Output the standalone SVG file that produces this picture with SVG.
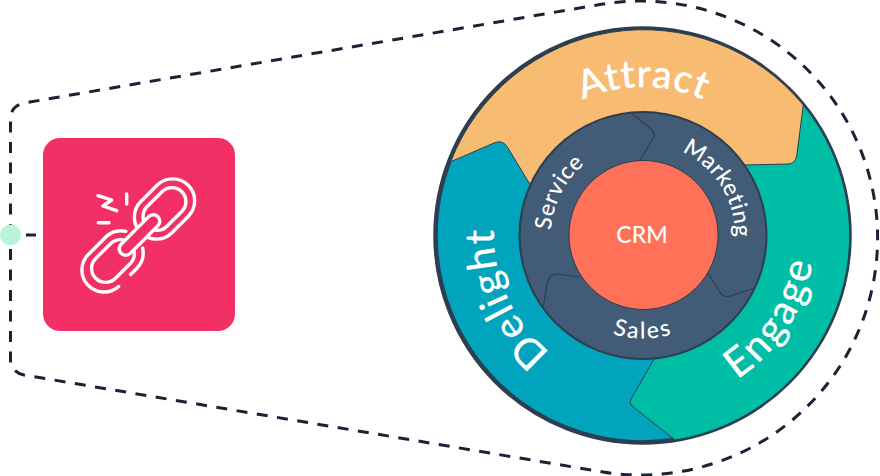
<svg xmlns="http://www.w3.org/2000/svg" width="880" height="476" viewBox="0 0 880 476">
<style>
.dash{fill:none;stroke:#1a2238;stroke-width:3}
.ic{fill:none;stroke:#fff;stroke-width:3.4;stroke-linecap:round;stroke-linejoin:round}
.seg{stroke:#2d3e50;stroke-width:1}
.big{font-family:Lato,"Liberation Sans",sans-serif;font-size:41px;font-weight:500;fill:#fff;text-anchor:middle;letter-spacing:1.500px}
.small{font-family:Lato,"Liberation Sans",sans-serif;font-size:23px;font-weight:500;fill:#fff;text-anchor:middle;letter-spacing:.4px}
</style>
<defs>
<path id="pAttract" d="M497.2 209.8A148 148 0 0 1 788.8 209.8"/>
<path id="pDelight" d="M650.8 384.3A149 149 0 0 1 541.4 126.6"/>
<path id="pEngage" d="M601.4 402.4A172 172 0 0 0 782.1 134.4"/>
<path id="pService" d="M565.8 285.6A92 92 0 0 1 638.2 143.6"/>
<path id="pMarketing" d="M608.5 150.2A92 92 0 0 1 704.6 303.9"/>
<path id="pSales" d="M553.8 287A103 103 0 0 0 732.2 287"/>
</defs>
<g id="connectors">
<path class="dash" stroke-dasharray="11 9.500" d="M10.5 235V119Q10.5 106 24 103L603 4A237 237 0 1 1 603 472L24 375Q10.5 372 10.5 359V235"/>
<path class="dash" d="M26 235H36"/>
</g>
<g id="dot"><circle cx="10.5" cy="235" r="10.5" fill="#b9f3dc"/></g>
<g id="broken-link">
<rect x="43" y="138" width="192" height="193" rx="17" fill="#f33066"/>
<g transform="translate(164.5 209) rotate(-45)"><rect class="ic" x="-33.5" y="-22" width="67" height="44" rx="22"/><rect class="ic" x="-24.5" y="-14" width="49" height="28" rx="14"/></g>
<g transform="translate(113 261) rotate(-45)"><path class="ic" d="M-14 22A22 22 0 0 1 -11.500-22H11.500A22 22 0 0 1 30-11.900M30 11.900A22 22 0 0 1 11.500 22H3"/><rect class="ic" x="-24.500" y="-14" width="49" height="28" rx="14"/></g>
<rect class="ic" x="-26" y="-6.500" width="52" height="13" rx="6.500" transform="translate(139.500 235) rotate(-45)" style="fill:#f33066"/>
<path class="ic" d="M98 195.700L111.700 200L103 206L116.700 210.700M126.700 194V204M98.300 222.700H109"/>
</g>
<g id="delight">
<circle cx="642.500" cy="235.500" r="207" fill="#00a4bd" stroke="#2d3e50" stroke-width="4.500"/>
<text class="big"><textPath href="#pDelight" startOffset="49%">Delight</textPath></text>
</g>
<g id="engage">
<path class="seg" d="M803.300 105A207 207 0 0 1 675 440L632 406Q629 403 631 399L653 361L745 165L803.300 105Z" fill="#00bda5"/>
<text class="big" style="letter-spacing:2.500px"><textPath href="#pEngage" startOffset="51%">Engage</textPath></text>
</g>
<g id="attract">
<path class="seg" d="M450.700 161.700A207 207 0 0 1 803.300 105L796.700 156Q795 164 788 164L745 165L529.300 183.300L508 148Q503 139 494 143Z" fill="#f7bb72"/>
<text class="big" style="font-weight:600;font-size:39px;letter-spacing:.5px"><textPath href="#pAttract" startOffset="50%">Attract</textPath></text>
</g>
<g id="ring">
<circle cx="643" cy="235.500" r="123.500" fill="#425b76" stroke="#2d3e50" stroke-width="2"/>
<path fill="none" stroke="#2d3e50" stroke-width="1.200" d="M631.700 113.300L651 129Q656 134 653 139L640 160M708 273L720 292Q723 298 730 296L755 288M543 308L547 285Q548 274 558 274L580 277"/>
<text class="small"><textPath href="#pService" startOffset="50%">Service</textPath></text>
<text class="small"><textPath href="#pMarketing" startOffset="50%">Marketing</textPath></text>
<text class="small" style="letter-spacing:2px"><textPath href="#pSales" startOffset="50%">Sales</textPath></text>
</g>
<g id="crm">
<circle cx="643.500" cy="235" r="74.500" fill="#ff7159" stroke="#2d3e50" stroke-width="1"/>
<text class="small" x="642" y="243" style="letter-spacing:0">CRM</text>
</g>
</svg>
